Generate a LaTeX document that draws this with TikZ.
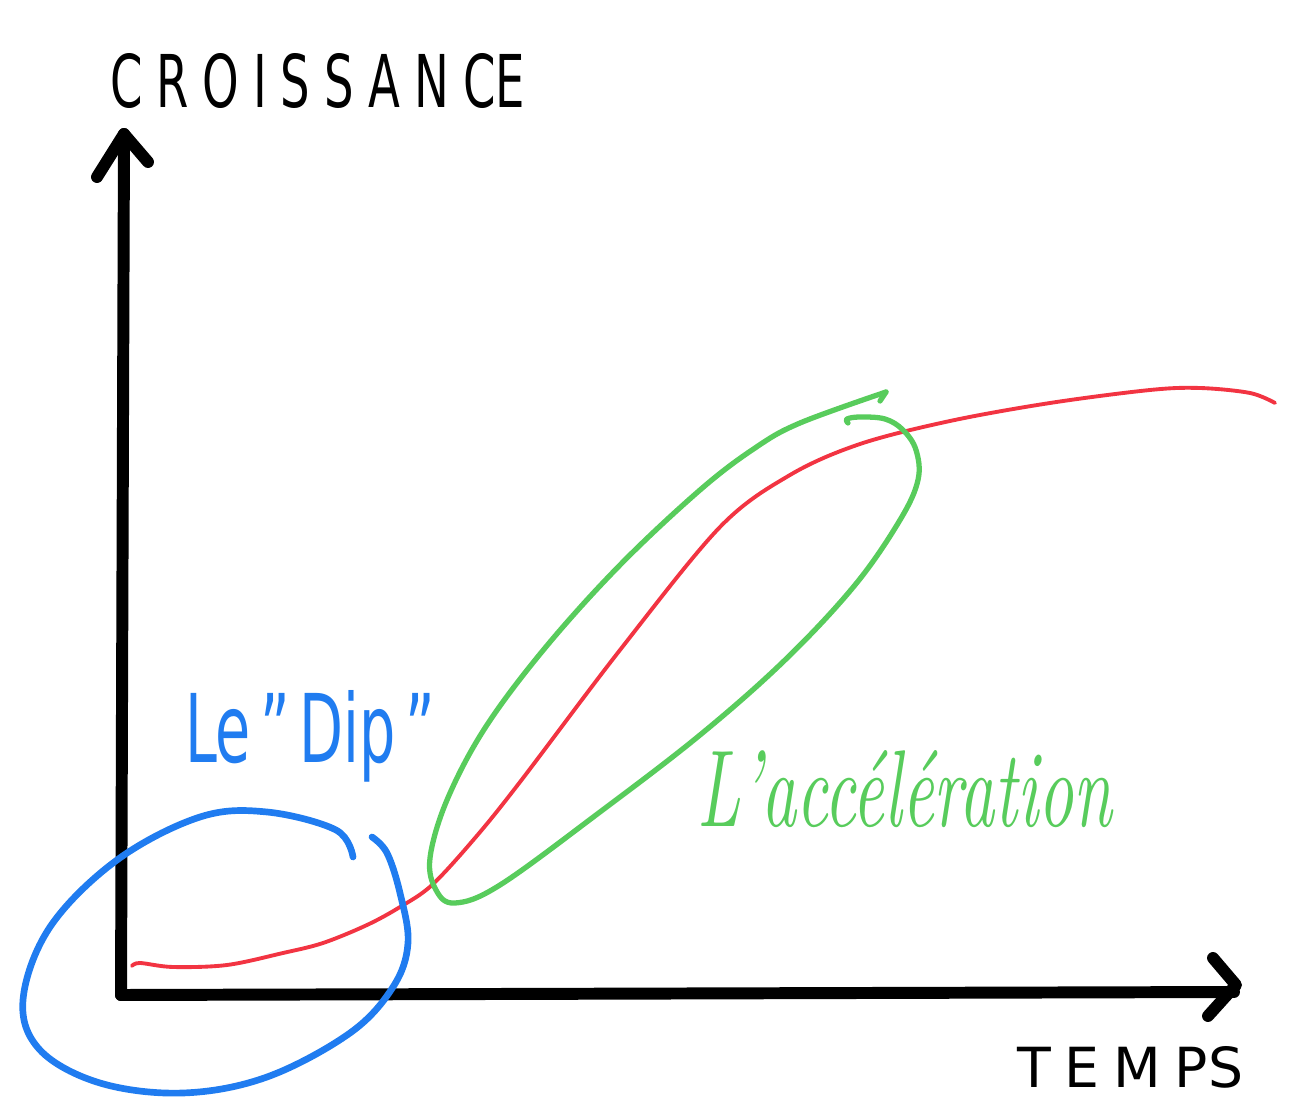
\documentclass[tikz,border=0pt]{standalone}
\usepackage{fontspec}
\setsansfont{DejaVu Sans}
\usepackage{graphicx}
\definecolor{redc}{RGB}{242,52,66}
\definecolor{bluec}{RGB}{32,124,240}
\definecolor{greenc}{RGB}{88,204,92}
\begin{document}
\begin{tikzpicture}[x=0.01cm,y=-0.01cm,line cap=round,line join=round,
  axisline/.style={line width=3.4pt,draw=black},
  redline/.style={line width=1.1pt,draw=redc},
  blueline/.style={line width=1.9pt,draw=bluec},
  greenline/.style={line width=1.5pt,draw=greenc},
  lbl/.style={inner sep=0pt,outer sep=0pt,anchor=base west}]
\useasboundingbox (0,0) rectangle (1300,1119);
% axes
\coordinate (O) at (121,995);
\coordinate (ytip) at (124,134);
\coordinate (yl) at (97,177);
\coordinate (yr) at (148,162);
\coordinate (xtip) at (1236,985);
\coordinate (xu) at (1213,958);
\coordinate (xd) at (1208,1016);
\draw[axisline] (O) -- (ytip);
\draw[axisline] (O) -- (1234,992);
\draw[axisline] (yl) -- (ytip) -- (yr);
\draw[axisline] (xu) -- (xtip) -- (xd);
% labels
\node[lbl] (ylabel) at (110,108) {\resizebox{4.15cm}{0.54cm}{\sffamily\addfontfeature{LetterSpace=30}CROISSANC\addfontfeature{LetterSpace=0}E}};
\node[lbl] (xlabel) at (1017,1087) {\resizebox{2.26cm}{0.41cm}{\sffamily\addfontfeature{LetterSpace=25}TEMP\addfontfeature{LetterSpace=0}S}};
% red curve
\draw[redline] plot[smooth,tension=0.55] coordinates {(132,966) (140,963) (173,967) (227,965) (283,953) (323,943) (367,925) (400,907) (432,885) (475,838) (520,782) (620,650) (720,527) (790,475) (860,444) (950,421) (1050,403) (1150,390) (1200,388) (1250,393) (1275,403)};
% blue loop
\draw[blueline] plot[smooth,tension=0.6] coordinates {(353,857) (336,830) (267,812) (200,817) (117,860) (50,927) (23,1000) (40,1050) (100,1083) (183,1093) (267,1077) (350,1033) (393,987) (408,943) (400,893) (387,853) (372,837)};
\node[lbl,text=bluec] (dip) at (185,762) {\resizebox{2.5cm}{0.72cm}{\sffamily Le\,"\,Dip\,"}};
% green loop
\draw[greenline] (880,401) -- (886,392);
\draw[greenline] plot[smooth,tension=0.6] coordinates {(886,392) (800,423) (755,448) (700,490) (620,565) (545,648) (485,728) (447,800) (430,858) (436,890) (455,903) (500,885) (600,812) (700,735) (785,660) (855,585) (900,520) (918,480) (916,450) (903,430) (885,419) (860,417) (847,419) (848,423)};
\node[lbl,text=greenc] (acc) at (697,826) {\resizebox{4.15cm}{0.76cm}{\itshape L'accélération}};
\end{tikzpicture}
\end{document}
